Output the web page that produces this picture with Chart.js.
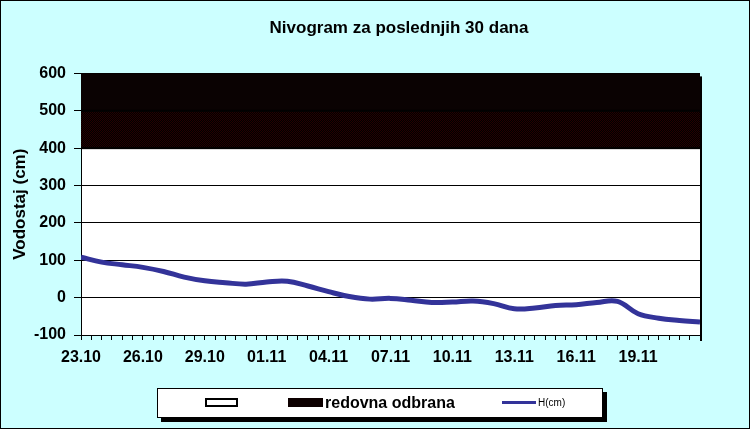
<!DOCTYPE html>
<html>
<head>
<meta charset="utf-8">
<script src="https://cdn.jsdelivr.net/npm/chart.js@4.4.0/dist/chart.umd.min.js"></script>
<style>
  body { margin: 0; }
  #wrap { position: relative; width: 750px; height: 429px; background: #ccffff; font-family: "Liberation Sans", Arial, sans-serif; }
  #wrap canvas { position: absolute; left: 0; top: 0; }
  #frame { position: absolute; left: 0; top: 0; width: 750px; height: 429px; border: 1px solid #000; box-sizing: border-box; pointer-events: none; }
  #legend { position: absolute; left: 157px; top: 388px; width: 446px; height: 30px; background: #fff; border: 1px solid #000; box-sizing: border-box; box-shadow: 4px 4px 0 #000; }
  #legend .it { position: absolute; }
  #legend .empty { left: 47px; top: 9px; width: 33px; height: 9px; border: 2px solid #000; box-sizing: border-box; background: #fff; }
  #legend .band { left: 130px; top: 9px; width: 35px; height: 9px; background: #0d0000; }
  #legend .lbl1 { left: 167px; top: 4px; font-weight: bold; font-size: 16px; line-height: 20px; color: #000; }
  #legend .line { left: 344px; top: 12px; width: 34px; height: 3px; background: #333399; }
  #legend .lbl2 { left: 380px; top: 8px; font-size: 10px; line-height: 12px; color: #000; }
</style>
</head>
<body>
<div id="wrap">
  <canvas id="nivogram" width="750" height="429"></canvas>
  <div id="legend">
    <div class="it empty"></div>
    <div class="it band"></div>
    <div class="it lbl1">redovna odbrana</div>
    <div class="it line"></div>
    <div class="it lbl2">H(cm)</div>
  </div>
  <div id="frame"></div>
</div>
<script>
// daily water level readings, 23.10 - 22.11
const levels = [108, 95, 88, 81, 70, 55, 45, 40, 36, 42, 44, 31, 16, 3, -4, -2,
                -7, -13, -12, -9, -16, -30, -28, -21, -19, -13, -10, -43, -55, -61, -65];
// x-axis labels, one every 3 days
const tickLabels = ['23.10', '26.10', '29.10', '01.11', '04.11', '07.11', '10.11', '13.11', '16.11', '19.11'];
const labelEvery = 3;
// "redovna odbrana" band (cm)
const redovnaOdbrana = [400, 600];
const yMin = -100, yMax = 600, yStep = 100;

const FONT = '"Liberation Sans", Arial, sans-serif';

function ditherPattern(ctx) {
  const c = document.createElement('canvas');
  c.width = 2; c.height = 2;
  const p = c.getContext('2d');
  p.fillStyle = '#000000'; p.fillRect(0, 0, 2, 2);
  p.fillStyle = '#260000'; p.fillRect(0, 0, 1, 1); p.fillRect(1, 1, 1, 1);
  return ctx.createPattern(c, 'repeat');
}

const bandPlugin = {
  id: 'bands',
  afterLayout(chart) {
    // title sits centred over the whole frame, not only the layout box
    chart.titleBlock.left += 49;
    chart.titleBlock.right += 49;
  },
  beforeDatasetsDraw(chart) {
    const { ctx, chartArea, scales: { y } } = chart;
    const yTop = y.getPixelForValue(redovnaOdbrana[1]);
    const yMid = y.getPixelForValue((redovnaOdbrana[0] + redovnaOdbrana[1]) / 2);
    const yBot = y.getPixelForValue(redovnaOdbrana[0]);
    ctx.save();
    ctx.fillStyle = '#0a0202';
    ctx.fillRect(chartArea.left, yTop, chartArea.width, yMid - yTop);
    ctx.fillStyle = ditherPattern(ctx);
    ctx.fillRect(chartArea.left, yMid, chartArea.width, yBot - yMid);
    ctx.fillStyle = '#000';
    ctx.fillRect(chartArea.left, yMid - 1, chartArea.width, 2);
    ctx.fillRect(chartArea.left, yBot - 1, chartArea.width, 2);
    ctx.restore();
  },
  afterDraw(chart) {
    const { ctx, chartArea } = chart;
    ctx.save();
    ctx.fillStyle = '#000';
    ctx.fillRect(chartArea.right, chartArea.top + 3, 2, chartArea.height + 3);
    ctx.restore();
  }
};

const plotBg = {
  id: 'plotBg',
  beforeDraw(chart) {
    const { ctx, chartArea } = chart;
    ctx.save();
    ctx.fillStyle = '#ffffff';
    ctx.fillRect(chartArea.left, chartArea.top, chartArea.width, chartArea.height);
    ctx.restore();
  }
};

new Chart(document.getElementById('nivogram'), {
  type: 'line',
  data: {
    datasets: [{
      label: 'H(cm)',
      data: levels.map((v, i) => ({ x: i, y: v })),
      borderColor: '#333399',
      borderWidth: 5,
      pointRadius: 0,
      tension: 0.4,
      fill: false
    }]
  },
  options: {
    responsive: false,
    animation: false,
    layout: { padding: { left: 0, right: 50, top: 0, bottom: 54 } },
    plugins: {
      legend: { display: false },
      tooltip: { enabled: false },
      title: {
        display: true,
        text: 'Nivogram za poslednjih 30 dana',
        color: '#000',
        font: { family: FONT, size: 17, weight: 'bold' },
        padding: { top: 18, bottom: 35 }
      }
    },
    scales: {
      x: {
        type: 'linear',
        min: 0,
        max: levels.length - 1,
        afterFit: s => { s.height = 40; },
        afterBuildTicks: s => {
          const t = [];
          for (let i = 0; i <= (levels.length - 1) * 2; i++) t.push({ value: i / 2 });
          s.ticks = t;
        },
        ticks: {
          autoSkip: false,
          maxRotation: 0,
          color: '#000',
          padding: 8,
          font: { family: FONT, size: 16, weight: 'bold' },
          callback: v => {
            if (Math.abs(v - Math.round(v)) > 1e-6) return '';
            const r = Math.round(v);
            return r % labelEvery === 0 ? (tickLabels[r / labelEvery] || '') : '';
          }
        },
        grid: { drawOnChartArea: false, drawTicks: true, tickLength: 5, color: '#000', lineWidth: 1 },
        border: { display: true, color: '#000', width: 1 }
      },
      y: {
        min: yMin,
        max: yMax,
        afterFit: s => { s.width = 81; },
        ticks: {
          stepSize: yStep,
          color: '#000',
          padding: 8,
          font: { family: FONT, size: 16, weight: 'bold' }
        },
        grid: { color: '#000', lineWidth: 1, tickLength: 7 },
        border: { display: true, color: '#000', width: 1 },
        title: {
          display: true,
          text: 'Vodostaj (cm)',
          color: '#000',
          font: { family: FONT, size: 17, weight: 'bold' },
          padding: { top: 10, bottom: 0 }
        }
      }
    }
  },
  plugins: [plotBg, bandPlugin]
});
</script>
</body>
</html>
